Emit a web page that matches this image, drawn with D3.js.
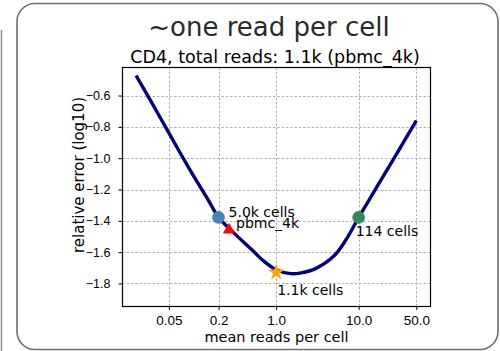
<!DOCTYPE html>
<html>
<head>
<meta charset="utf-8">
<script src="https://cdn.jsdelivr.net/npm/d3@7"></script>
<style>
  html, body { margin: 0; padding: 0; background: #fff; }
  svg { display: block; font-family: "DejaVu Sans", sans-serif; }
</style>
</head>
<body>
<div id="main"></div>
<script>
// curve: mean reads per cell vs log10 relative error
const meanReads = [0.02, 0.03, 0.05, 0.07, 0.1, 0.15, 0.2, 0.3, 0.5, 0.7, 1, 1.5, 2, 3, 5, 7, 10, 15, 20, 30, 50];
const relError = [-0.472, -0.633, -0.838, -0.975, -1.115, -1.267, -1.378, -1.472, -1.582, -1.655, -1.712, -1.737, -1.732, -1.705, -1.625, -1.522, -1.378, -1.223, -1.113, -0.958, -0.76];

// highlighted points
const pointNames = ['5.0k cells', 'pbmc_4k', '1.1k cells', '114 cells'];
const pointReads = [0.2, 0.268, 1.0, 10];
const pointError = [-1.378, -1.458, -1.729, -1.378];

// ticks
const xTicks = [0.05, 0.2, 1, 10, 50];
const xTickLabels = ['0.05', '0.2', '1.0', '10.0', '50.0'];
const yTicks = [-0.6, -0.8, -1.0, -1.2, -1.4, -1.6, -1.8];

function main() {
  const width = 500;
  const height = 351;
  // plot frame edges
  const left = 122.5, right = 430.5, top = 67.5, bottom = 306.5;

  const x = d3.scaleLog()
    .domain([0.0137, 74.3])
    .range([left, right]);
  const y = d3.scaleLinear()
    .domain([-1.947, -0.421])
    .range([bottom, top]);

  const svg = d3.select('#main')
    .append('svg')
    .attr('width', width)
    .attr('height', height);

  // outer card with rounded corners
  svg.append('rect')
    .attr('x', 17).attr('y', 3.5)
    .attr('width', 481).attr('height', 346)
    .attr('rx', 18).attr('ry', 18)
    .attr('fill', 'none')
    .attr('stroke', '#6e6e6e')
    .attr('stroke-width', 1.6);
  // edge of the neighbouring card on the left
  svg.append('line')
    .attr('x1', 1.5).attr('x2', 1.5)
    .attr('y1', 30).attr('y2', height)
    .attr('stroke', '#8a8a8a')
    .attr('stroke-width', 1.5);

  // dashed grid
  const grid = svg.append('g')
    .attr('stroke', '#b0b0b0')
    .attr('stroke-width', 1)
    .attr('stroke-dasharray', '2.5,1.8');
  grid.selectAll('line.gx')
    .data(xTicks)
    .enter()
    .append('line')
    .attr('class', 'gx')
    .attr('x1', d => Math.round(x(d)) + 0.5).attr('x2', d => Math.round(x(d)) + 0.5)
    .attr('y1', top).attr('y2', bottom);
  grid.selectAll('line.gy')
    .data(yTicks)
    .enter()
    .append('line')
    .attr('class', 'gy')
    .attr('x1', left).attr('x2', right)
    .attr('y1', d => Math.round(y(d)) + 0.5).attr('y2', d => Math.round(y(d)) + 0.5);

  // axes
  const xAxis = svg.append('g')
    .attr('transform', `translate(0, ${bottom})`)
    .call(d3.axisBottom(x)
      .tickValues(xTicks)
      .tickFormat((d, i) => xTickLabels[i])
      .tickSizeInner(3.5)
      .tickSizeOuter(0)
      .tickPadding(5));
  xAxis.select('.domain').remove();
  xAxis.selectAll('line').attr('stroke', '#000').attr('stroke-width', 1);
  xAxis.selectAll('text').style('font-size', '13.5px').attr('fill', '#000');

  const yAxis = svg.append('g')
    .attr('transform', `translate(${left}, 0)`)
    .call(d3.axisLeft(y)
      .tickValues(yTicks)
      .tickFormat(d => d3.format('.1f')(d).replace('-', '\u2212'))
      .tickSizeInner(4)
      .tickSizeOuter(0)
      .tickPadding(8));
  yAxis.select('.domain').remove();
  yAxis.selectAll('line').attr('stroke', '#000').attr('stroke-width', 1);
  yAxis.selectAll('text').style('font-size', '12.5px').attr('fill', '#000');

  // frame
  svg.append('rect')
    .attr('x', left).attr('y', top)
    .attr('width', right - left).attr('height', bottom - top)
    .attr('fill', 'none')
    .attr('stroke', '#000')
    .attr('stroke-width', 1.2);

  // the curve
  const line = d3.line()
    .x((d, i) => x(meanReads[i]))
    .y(d => y(d))
    .curve(d3.curveCatmullRom.alpha(0.5));
  svg.append('path')
    .datum(relError)
    .attr('d', line)
    .attr('fill', 'none')
    .attr('stroke', '#000080')
    .attr('stroke-width', 3.4);

  // markers
  const markerColor = ['#4682b4', '#ff0000', '#ffa500', '#2e8b57'];
  const markerShape = [d3.symbolCircle, d3.symbolTriangle, d3.symbolStar, d3.symbolCircle];
  const markerSize = [125, 66, 88, 125];
  svg.selectAll('path.marker')
    .data(pointNames)
    .enter()
    .append('path')
    .attr('class', 'marker')
    .attr('transform', (d, i) => `translate(${x(pointReads[i])}, ${y(pointError[i])})`)
    .attr('d', (d, i) => d3.symbol().type(markerShape[i]).size(markerSize[i])())
    .attr('fill', (d, i) => markerColor[i]);

  // labels next to markers (pixel offsets from each marker)
  const labelDx = [10, 7, 1, -3];
  const labelDy = [0, -2, 23, 19];
  svg.selectAll('text.note')
    .data(pointNames)
    .enter()
    .append('text')
    .attr('class', 'note')
    .attr('x', (d, i) => x(pointReads[i]) + labelDx[i])
    .attr('y', (d, i) => y(pointError[i]) + labelDy[i])
    .style('font-size', '14px')
    .text(d => d);

  // titles
  svg.append('text')
    .attr('x', 269).attr('y', 36)
    .style('font-size', '26px')
    .attr('fill', '#2a2a2a')
    .style('text-anchor', 'middle')
    .text('~one read per cell');
  svg.append('text')
    .attr('x', 275).attr('y', 63)
    .style('font-size', '17.5px')
    .style('text-anchor', 'middle')
    .text('CD4, total reads: 1.1k (pbmc_4k)');

  // axis labels
  svg.append('text')
    .attr('x', (left + right) / 2).attr('y', 342)
    .style('font-size', '14.5px')
    .style('text-anchor', 'middle')
    .text('mean reads per cell');
  svg.append('text')
    .attr('transform', 'rotate(-90)')
    .attr('x', -175).attr('y', 84)
    .style('font-size', '15px')
    .style('text-anchor', 'middle')
    .text('relative error (log10)');
}

document.addEventListener('DOMContentLoaded', main);
</script>
</body>
</html>
